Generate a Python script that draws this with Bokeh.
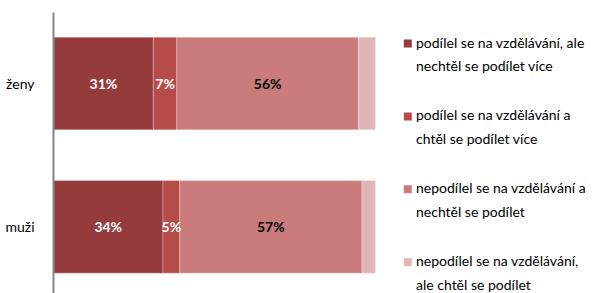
import numpy as np
from bokeh.plotting import figure
from bokeh.models import Range1d, FixedTicker, ColumnDataSource
from bokeh.core.properties import value
from bokeh.embed import file_html
from bokeh.resources import INLINE

# ---- data ----
categories = ["ženy", "muži"]
series = [
    "podílel se na vzdělávání, ale\nnechtěl se podílet více",
    "podílel se na vzdělávání a\nchtěl se podílet více",
    "nepodílel se na vzdělávání a\nnechtěl se podílet",
    "nepodílel se na vzdělávání,\nale chtěl se podílet",
]
s1 = [31.0, 34.0]
s2 = [7.3, 5.2]
s3 = [56.4, 56.6]
s4 = [5.3, 4.2]
show_label = [True, True, True, False]

# ---- styles ----
colors = ["#953b3b", "#b64c4a", "#c97c7b", "#dfb6b5"]
label_colors = ["white", "white", "black", "black"]
FONT = "Lato"

ypos = list(range(len(categories)))
keys = ["s1", "s2", "s3", "s4"]
src = ColumnDataSource(dict(y=ypos, s1=s1, s2=s2, s3=s3, s4=s4))

W, H = 600, 293
LEFT, TOP = 53, 12
frame_w = W - LEFT
frame_h = H - TOP
px_per_pct = 3.22
x_end = frame_w / px_per_pct
unit_y = 143.35
y_top = -(83.0 - TOP) / unit_y
y_bot = y_top + frame_h / unit_y

p = figure(width=W, height=H, x_range=Range1d(0, x_end),
           y_range=Range1d(y_bot, y_top), x_axis_location=None,
           toolbar_location=None, output_backend="svg",
           min_border_left=LEFT, min_border_right=0,
           min_border_top=TOP, min_border_bottom=0)
p.outline_line_color = None
p.grid.visible = False

p.hbar_stack(keys, y="y", height=0.646, color=colors, source=src,
             line_color="white", line_alpha=0.35, line_width=0.8)

vals = np.array([s1, s2, s3, s4])
right = np.cumsum(vals, axis=0)
left = right - vals
for i in range(len(keys)):
    if not show_label[i]:
        continue
    mid = (left[i] + right[i]) / 2
    txt = [f"{v:.0f}%" for v in vals[i]]
    p.text(x=mid, y=ypos, text=txt, text_align="center", text_baseline="middle",
           text_font=value(FONT), text_font_style="bold", text_font_size="14px",
           text_color=label_colors[i])

p.yaxis.ticker = FixedTicker(ticks=ypos)
p.yaxis.major_label_overrides = {y: c for y, c in zip(ypos, categories)}
p.yaxis.major_tick_line_color = None
p.yaxis.minor_tick_line_color = None
p.yaxis.axis_line_color = "#868686"
p.yaxis.axis_line_width = 2
p.yaxis.major_label_text_font = FONT
p.yaxis.major_label_text_font_size = "14px"
p.yaxis.major_label_text_color = "black"
p.yaxis.major_label_standoff = 13

# ---- legend (drawn in the same figure, right of the bars) ----
n = len(series)
sq_x = (407.3 - LEFT) / px_per_pct
tx_x = (415.5 - LEFT) / px_per_pct
leg_y = [(43.0 - TOP + 72.9 * i) / unit_y + y_top for i in range(n)]
p.scatter(x=[sq_x] * n, y=leg_y, marker="square", size=8, color=colors,
          line_color=None)
p.text(x=[tx_x] * n, y=leg_y, text=series, text_baseline="top", y_offset=-10,
       text_font=value(FONT), text_font_size="14px", text_line_height=1.4,
       text_color="black")

open("out.html", "w").write(file_html(p, INLINE))
